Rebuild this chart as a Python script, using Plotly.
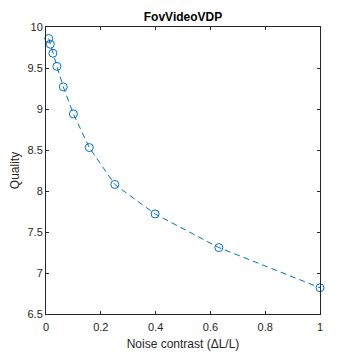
import plotly.graph_objects as go

noise_contrast = [0.01, 0.0158, 0.0251, 0.0398, 0.0631, 0.1, 0.158, 0.251, 0.398, 0.631, 1.0]
quality = [9.86, 9.79, 9.68, 9.52, 9.27, 8.94, 8.53, 8.08, 7.72, 7.31, 6.82]

x_ticks = [0, 0.2, 0.4, 0.6, 0.8, 1]
x_tick_labels = ["0", "0.2", "0.4", "0.6", "0.8", "1"]
y_ticks = [6.5, 7, 7.5, 8, 8.5, 9, 9.5, 10]
y_tick_labels = ["6.5", "7", "7.5", "8", "8.5", "9", "9.5", "10"]

blue = "#0072BD"
ax_col = "#262626"
font = "Liberation Sans, Arial, sans-serif"

fig = go.Figure()
fig.add_trace(go.Scatter(
    x=noise_contrast, y=quality, mode="lines+markers",
    line=dict(color=blue, width=1, dash="6px,4px"),
    marker=dict(symbol="circle-open", size=8, color=blue, line=dict(width=1, color=blue)),
    cliponaxis=False, showlegend=False,
))

axis_common = dict(
    showline=True, mirror="ticks", linecolor=ax_col, linewidth=1,
    ticks="inside", ticklen=3, tickcolor=ax_col, tickwidth=1,
    showgrid=False, zeroline=False, automargin=False,
    tickfont=dict(family=font, size=11, color=ax_col),
)

fig.update_layout(
    width=354, height=354,
    margin=dict(l=46, r=34, t=27, b=40),
    paper_bgcolor="white", plot_bgcolor="white",
    title=dict(text="<b>FovVideoVDP</b>", x=0.5, xanchor="center", xref="paper",
               y=1, yref="paper", yanchor="bottom", pad=dict(b=6),
               font=dict(family=font, size=12, color="black")),
    xaxis=dict(range=[0, 1], tickvals=x_ticks, ticktext=x_tick_labels,
               ticklabelstandoff=3,
               title=dict(text="Noise contrast (ΔL/L)", standoff=7,
                          font=dict(family=font, size=12, color=ax_col)),
               **axis_common),
    yaxis=dict(range=[6.5, 10], tickvals=y_ticks, ticktext=y_tick_labels,
               title=dict(text="Quality", standoff=5,
                          font=dict(family=font, size=12, color=ax_col)),
               **axis_common),
)

fig.write_html("out.html")
